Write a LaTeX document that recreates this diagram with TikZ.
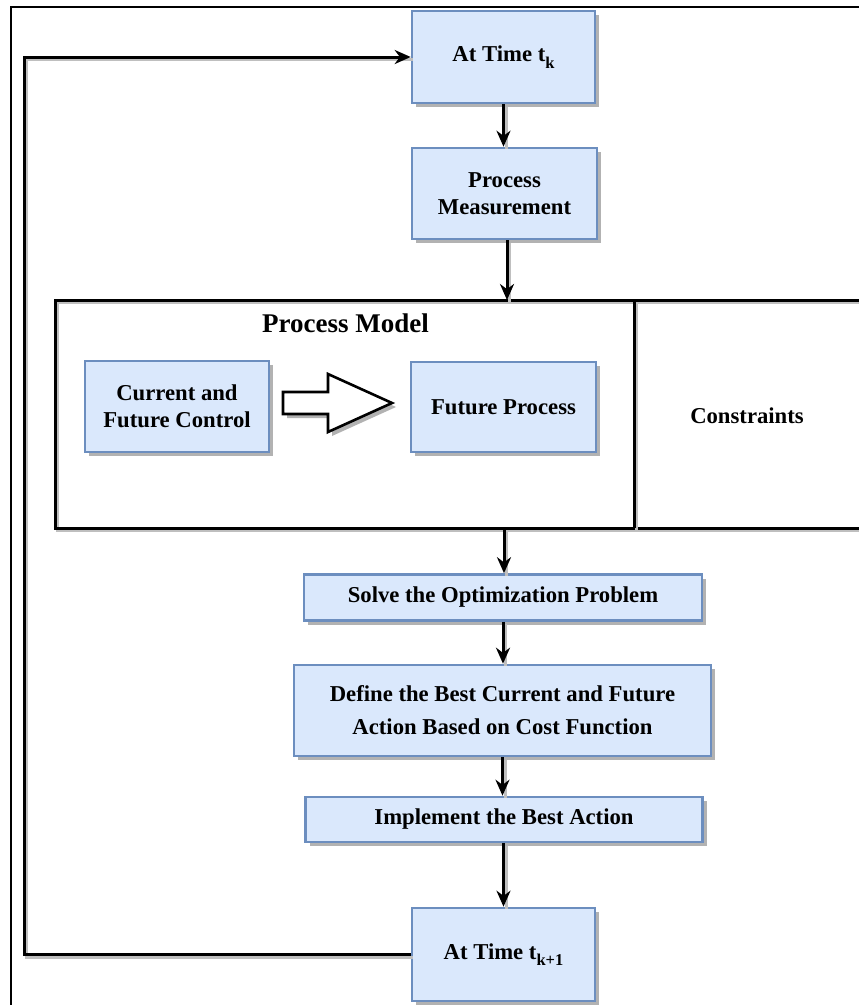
\documentclass[tikz,border=0pt]{standalone}
\usepackage{fontspec}
\setmainfont{Liberation Serif}
\usetikzlibrary{arrows.meta,shadows}

\definecolor{boxfill}{HTML}{DAE8FC}
\definecolor{boxline}{HTML}{6C8EBF}

% lowered subscript for the time index
\newcommand{\tsub}[1]{\raisebox{-6.5pt}{\fontsize{16.5}{16.5}\selectfont #1}}

\tikzset{
  stepbox/.style={draw=boxline, fill=boxfill, line width=2.6pt, align=center,
    inner sep=0pt, font=\bfseries\fontsize{22.7}{27}\selectfont,
    drop shadow={shadow xshift=4pt, shadow yshift=-4pt, fill=black!30, opacity=1}},
  flow/.style={line width=3pt, -{Stealth[length=16pt,width=14pt]},
    preaction={draw=black!25, line width=3pt, -, transform canvas={shift={(2.5pt,-2.5pt)}}}},
  wire/.style={line width=3pt,
    preaction={draw=black!25, line width=3pt, transform canvas={shift={(2.5pt,-2.5pt)}}}},
  plain/.style={font=\bfseries\fontsize{22.7}{27}\selectfont}
}

\begin{document}
\begin{tikzpicture}[x=1pt,y=-1pt]
\useasboundingbox (0,0) rectangle (859,1005);

% outer frame, running off the right and bottom edges
\draw[line width=2.2pt] (870,7) -- (11,7) -- (11,1015);

% process model block with its constraints column
\coordinate (mTL) at (55,300);
\coordinate (mBL) at (55,528);
\coordinate (mTR) at (870,300);
\coordinate (mBR) at (870,528);
\coordinate (mDT) at (634,300);
\coordinate (mDB) at (634,528);
\coordinate (mIn) at (507,300);
\coordinate (mOut) at (504,528);
\draw[wire] (mTR) -- (mTL) -- (mBL) -- (mBR);
\draw[wire] (mDT) -- (mDB);

\node[plain, font=\bfseries\fontsize{27}{32}\selectfont, anchor=base] (pmodel) at (345.5,332) {Process Model};
\node[plain, anchor=base] (cons) at (747,423) {Constraints};

% flow boxes
\node[stepbox, minimum width=183pt, minimum height=92pt] (tk) at (503.5,57) {At Time t\tsub{k}};
\node[stepbox, minimum width=185pt, minimum height=91pt] (pm) at (504.5,193.5) {Process\\Measurement};
\node[stepbox, minimum width=184pt, minimum height=91pt] (cfc) at (177,406.5) {Current and\\Future Control};
\node[stepbox, minimum width=185pt, minimum height=90pt] (fp) at (503.5,407) {Future Process};
\node[stepbox, minimum width=398pt, minimum height=46pt] (solve) at (503,597.5) {Solve the Optimization Problem};
\node[stepbox, minimum width=417pt, minimum height=91pt, font=\bfseries\fontsize{22.7}{33}\selectfont] (best) at (502.5,710.5) {Define the Best Current and Future\\Action Based on Cost Function};
\node[stepbox, minimum width=397pt, minimum height=45pt] (impl) at (504,819.5) {Implement the Best Action};
\node[stepbox, minimum width=183pt, minimum height=93pt] (tk1) at (503.5,954.5) {At Time t\tsub{k+1}};

% hollow block arrow from control to process
\draw[line width=2.6pt, fill=white, line join=miter,
  drop shadow={shadow xshift=4pt, shadow yshift=-4pt, fill=black!30, opacity=1}]
  (283,392) -- (328,392) -- (328,374) -- (392,403) -- (328,432) -- (328,414) -- (283,414) -- cycle;

% connectors
\draw[flow] (tk.south) -- (tk.south |- pm.north);
\draw[flow] (pm.south -| mIn) -- (mIn);
\draw[flow] (mOut) -- (mOut |- solve.north);
\draw[flow] (solve.south) -- (solve.south |- best.north);
\draw[flow] (best.south) -- (best.south |- impl.north);
\draw[flow] (impl.south -| tk1.north) -- (tk1.north);

% feedback loop to the next sampling instant
\coordinate (loop) at (24,57);
\draw[flow] (tk1.west) -- (tk1.west -| loop) -- (loop) -- (tk.west);
\end{tikzpicture}
\end{document}
